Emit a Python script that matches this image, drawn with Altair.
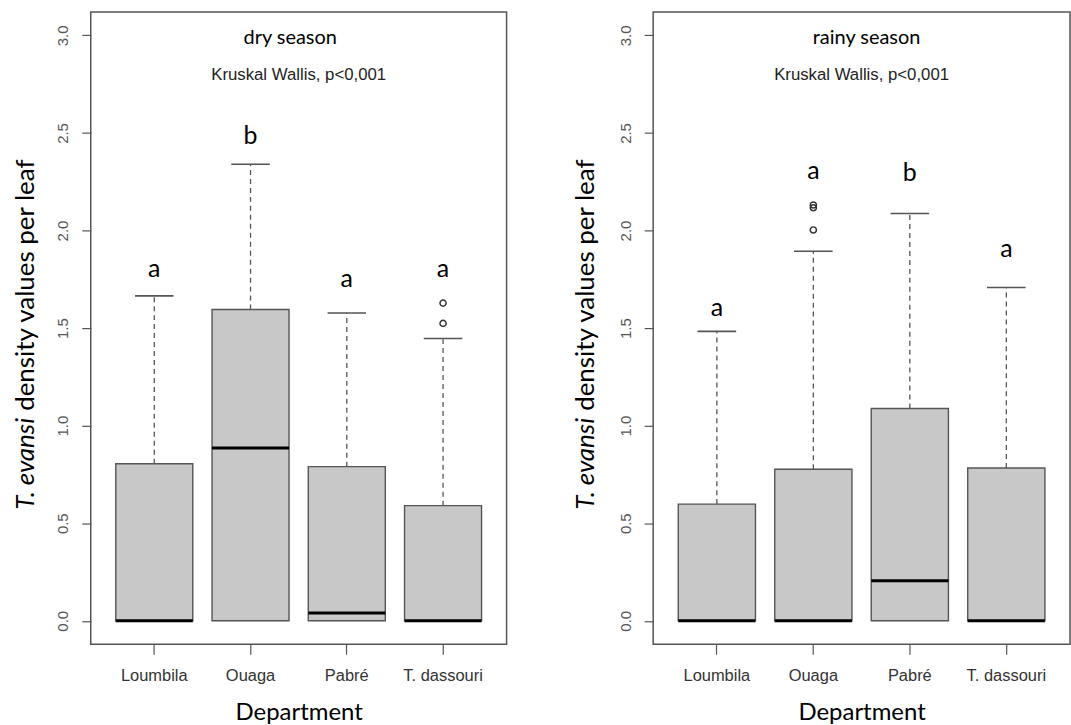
import altair as alt
import pandas as pd

categories = ["Loumbila", "Ouaga", "Pabré", "T. dassouri"]
y_ticks = [0.0, 0.5, 1.0, 1.5, 2.0, 2.5, 3.0]

# dry season
dry_q1 = [0.0, 0.0, 0.0, 0.0]
dry_median = [0.0, 0.885, 0.04, 0.0]
dry_q3 = [0.805, 1.595, 0.79, 0.59]
dry_whisker_hi = [1.665, 2.34, 1.577, 1.447]
dry_out_dept = ["T. dassouri", "T. dassouri"]
dry_out_val = [1.524, 1.628]
dry_letters = ["a", "b", "a", "a"]
dry_letter_y = [1.763, 2.444, 1.713, 1.763]

# rainy season
rainy_q1 = [0.0, 0.0, 0.0, 0.0]
rainy_median = [0.0, 0.0, 0.205, 0.0]
rainy_q3 = [0.598, 0.777, 1.088, 0.783]
rainy_whisker_hi = [1.483, 1.894, 2.087, 1.708]
rainy_out_dept = ["Ouaga", "Ouaga", "Ouaga"]
rainy_out_val = [2.003, 2.117, 2.131]
rainy_letters = ["a", "a", "b", "a"]
rainy_letter_y = [1.562, 2.262, 2.253, 1.865]

test_text = "Kruskal Wallis, p<0,001"
ylab_italic = "T. evansi"
ylab_rest = "density values per leaf"

PLOT_H = 634
yscale = alt.Scale(domain=[-0.12, 3.12], nice=False, zero=False)

xaxis = alt.Axis(title="Department", titleFont="Lato", titleFontSize=24,
                 titleFontWeight="normal", titleColor="black", titlePadding=17,
                 labelFont="Liberation Sans", labelFontSize=16.5, labelColor="#333",
                 labelAngle=0, labelPadding=13, tickSize=10, tickColor="#555",
                 tickWidth=1.2, domain=False, grid=False, labelOverlap=False)
yaxis = alt.Axis(title=None, values=y_ticks, format=".1f", labelAngle=270,
                 labelAlign="center", labelBaseline="bottom",
                 labelFont="Liberation Sans", labelFontSize=15, labelColor="#555",
                 labelPadding=11, tickSize=9, tickColor="#555", tickWidth=1.2,
                 domain=False, grid=False)


def panel(title, q1, med, q3, hi, od, ov, letters, ly, width, title_x, ylab_x):
    df = pd.DataFrame({"dept": categories, "q1": q1, "med": med, "q3": q3,
                       "hi": hi, "letter": letters, "ly": ly})
    dfo = pd.DataFrame({"dept": od, "v": ov})
    step = width / (4 + 2 * 0.16)
    xenc = alt.X("dept:N", sort=categories,
                 scale=alt.Scale(paddingInner=0, paddingOuter=0.16), axis=xaxis)

    def yenc(f):
        return alt.Y(f"{f}:Q", scale=yscale, axis=yaxis)

    base = alt.Chart(df)
    whisk = base.mark_rule(color="#555", strokeWidth=1.3, strokeDash=[5, 4]).encode(
        x=xenc, y=yenc("q3"), y2="hi:Q")
    cap = base.mark_tick(color="#555", thickness=1.6, size=0.4 * step, opacity=1).encode(
        x=xenc, y=yenc("hi"))
    box = base.mark_bar(fill="#c8c8c8", stroke="#555", strokeWidth=1.4, opacity=1,
                        width=alt.RelativeBandSize(0.8)).encode(
        x=xenc, y=yenc("q1"), y2="q3:Q")
    medl = base.mark_tick(color="black", thickness=3, size=0.8 * step, opacity=1).encode(
        x=xenc, y=yenc("med"))
    pts = alt.Chart(dfo).mark_point(shape="circle", filled=False, size=38,
                                    color="#333", strokeWidth=1.5, opacity=1).encode(
        x=xenc, y=yenc("v"))
    lets = base.mark_text(font="Lato", fontSize=25, baseline="alphabetic",
                          color="black").encode(x=xenc, y=yenc("ly"), text="letter:N")
    ttl = alt.Chart(pd.DataFrame({"t": [title]})).mark_text(
        font="Lato", fontSize=20, baseline="alphabetic", color="black").encode(
        x=alt.value(title_x), y=alt.value(32), text="t:N")
    kw = alt.Chart(pd.DataFrame({"t": [test_text]})).mark_text(
        font="Liberation Sans", fontSize=16.8, baseline="alphabetic", color="#222").encode(
        x=alt.value(width / 2), y=alt.value(68), text="t:N")
    yl1 = alt.Chart(pd.DataFrame({"t": [ylab_italic]})).mark_text(
        font="Lato", fontSize=26, fontStyle="italic", angle=270, align="right",
        baseline="alphabetic", color="black").encode(
        x=alt.value(ylab_x), y=alt.value(407), text="t:N")
    yl2 = alt.Chart(pd.DataFrame({"t": [ylab_rest]})).mark_text(
        font="Lato", fontSize=26, angle=270, align="left",
        baseline="alphabetic", color="black").encode(
        x=alt.value(ylab_x), y=alt.value(400), text="t:N")
    return alt.layer(whisk, cap, box, medl, pts, lets, ttl, kw, yl1, yl2).properties(
        width=width, height=PLOT_H)


left = panel("dry season", dry_q1, dry_median, dry_q3, dry_whisker_hi,
             dry_out_dept, dry_out_val, dry_letters, dry_letter_y, 417, 200, -57)
right = panel("rainy season", rainy_q1, rainy_median, rainy_q3, rainy_whisker_hi,
              rainy_out_dept, rainy_out_val, rainy_letters, rainy_letter_y, 418, 214, -59)

chart = alt.hconcat(left, right, spacing=65).properties(
    padding={"left": 12, "top": 10, "right": 0, "bottom": 0},
    background="white",
).configure_view(stroke="#555", strokeWidth=1.5)

chart.save("out.html", embed_options={"renderer": "svg", "actions": False})
